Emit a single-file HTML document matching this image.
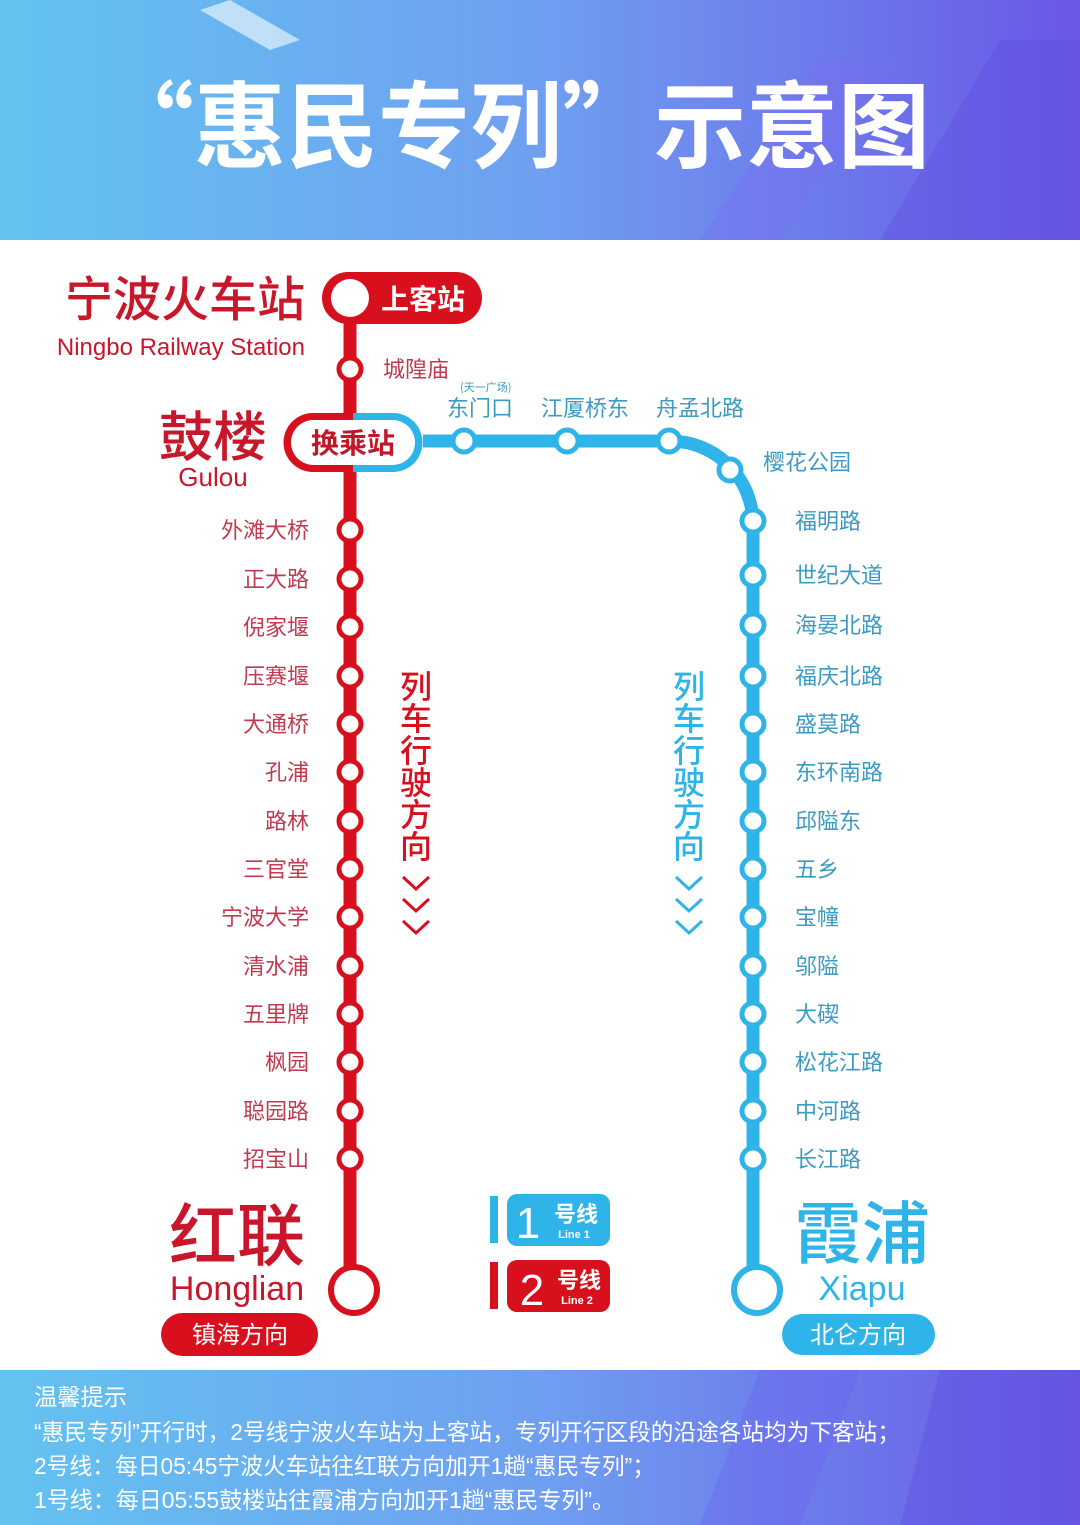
<!DOCTYPE html>
<html><head><meta charset="utf-8"><style>
html,body{margin:0;padding:0;background:#fff}
svg{display:block}
text{font-family:"Liberation Sans","Noto Sans CJK SC",sans-serif}
.cj{font-family:"Noto Sans CJK SC",sans-serif}
</style></head><body>
<svg width="1080" height="1525" viewBox="0 0 1080 1525" xmlns="http://www.w3.org/2000/svg">
<defs>
<linearGradient id="hg" x1="0" y1="0" x2="1" y2="0">
<stop offset="0" stop-color="#63c3f0"/><stop offset="0.5" stop-color="#6f9ff0"/><stop offset="1" stop-color="#6a58e6"/></linearGradient>
</defs>
<rect x="0" y="0" width="1080" height="240" fill="url(#hg)"/>
<polygon points="700,240 820,60 900,60 780,240" fill="#7a6cf0" opacity="0.35"/>
<polygon points="880,240 1000,40 1080,40 1080,240" fill="#5b4ee0" opacity="0.35"/>
<polygon points="230,0 300,40 270,50 200,10" fill="#e6f2fb" opacity="0.7"/>
<text x="102" y="160" class="cj" font-size="94" font-weight="700" fill="#fff" textLength="828" lengthAdjust="spacingAndGlyphs">“惠民专列”示意图</text>

<rect x="0" y="1370" width="1080" height="155" fill="url(#hg)"/>
<polygon points="700,1525 760,1370 860,1370 800,1525" fill="#6a62ee" opacity="0.35"/>
<polygon points="900,1525 940,1370 1080,1370 1080,1525" fill="#5b4ee0" opacity="0.35"/>
<g class="cj" fill="#fff" font-size="23">
<text x="34" y="1405" textLength="93" lengthAdjust="spacingAndGlyphs">温馨提示</text>
<text x="34" y="1440" textLength="866" lengthAdjust="spacingAndGlyphs">“惠民专列”开行时，2号线宁波火车站为上客站，专列开行区段的沿途各站均为下客站；</text>
<text x="34" y="1474" textLength="621" lengthAdjust="spacingAndGlyphs">2号线：每日05:45宁波火车站往红联方向加开1趟“惠民专列”；</text>
<text x="34" y="1508" textLength="581" lengthAdjust="spacingAndGlyphs">1号线：每日05:55鼓楼站往霞浦方向加开1趟“惠民专列”。</text>
</g>

<path d="M423,441 H670 A83,83 0 0 1 753,524 V1266" stroke="#2fb4e9" stroke-width="13" fill="none"/>
<line x1="350" y1="300" x2="350" y2="1266" stroke="#d8101e" stroke-width="13"/>

<rect x="322" y="272" width="160" height="52" rx="26" fill="#d8101e"/>
<circle cx="350" cy="298" r="19" fill="#fff"/>
<text x="423" y="309" text-anchor="middle" class="cj" font-size="28" font-weight="700" fill="#fff">上客站</text>

<path d="M353,413 H313 A29.5,29.5 0 0 0 313,472 H353 Z" fill="#d8101e"/>
<path d="M353,413 H393 A29.5,29.5 0 0 1 393,472 H353 Z" fill="#2fb4e9"/>
<rect x="291" y="420" width="124" height="45" rx="22.5" fill="#fff"/>
<text x="353" y="453" text-anchor="middle" class="cj" font-size="28" font-weight="700" fill="#c0182a">换乘站</text>

<g fill="#fff" stroke="#d8101e" stroke-width="5">
<circle cx="350" cy="369" r="11"/><circle cx="350" cy="530" r="11"/><circle cx="350" cy="579" r="11"/><circle cx="350" cy="627" r="11"/><circle cx="350" cy="676" r="11"/><circle cx="350" cy="724" r="11"/><circle cx="350" cy="772" r="11"/><circle cx="350" cy="821" r="11"/><circle cx="350" cy="869" r="11"/><circle cx="350" cy="917" r="11"/><circle cx="350" cy="966" r="11"/><circle cx="350" cy="1014" r="11"/><circle cx="350" cy="1062" r="11"/><circle cx="350" cy="1111" r="11"/><circle cx="350" cy="1159" r="11"/>
<circle cx="354" cy="1290" r="23" stroke-width="6"/>
</g>
<g fill="#fff" stroke="#2fb4e9" stroke-width="5">
<circle cx="464" cy="441" r="11"/><circle cx="567" cy="441" r="11"/><circle cx="669" cy="441" r="11"/><circle cx="730" cy="470" r="11"/><circle cx="753" cy="521" r="11"/><circle cx="753" cy="575" r="11"/><circle cx="753" cy="625" r="11"/><circle cx="753" cy="676" r="11"/><circle cx="753" cy="724" r="11"/><circle cx="753" cy="772" r="11"/><circle cx="753" cy="821" r="11"/><circle cx="753" cy="869" r="11"/><circle cx="753" cy="917" r="11"/><circle cx="753" cy="966" r="11"/><circle cx="753" cy="1014" r="11"/><circle cx="753" cy="1062" r="11"/><circle cx="753" cy="1111" r="11"/><circle cx="753" cy="1159" r="11"/>
<circle cx="757" cy="1290" r="23" stroke-width="6"/>
</g>

<text x="305" y="316" text-anchor="end" class="cj" font-size="48" font-weight="500" fill="#c8172b">宁波火车站</text>
<text x="305" y="355" text-anchor="end" font-size="24" fill="#c8172b">Ningbo Railway Station</text>
<text x="213" y="456" text-anchor="middle" class="cj" font-size="54" font-weight="500" fill="#c8172b">鼓楼</text>
<text x="213" y="486" text-anchor="middle" font-size="26" fill="#c8172b">Gulou</text>
<text x="237" y="1260" text-anchor="middle" class="cj" font-size="68" font-weight="500" fill="#c8172b">红联</text>
<text x="237" y="1300" text-anchor="middle" font-size="34" fill="#c8172b">Honglian</text>
<rect x="161" y="1313" width="157" height="43" rx="21.5" fill="#d8101e"/>
<text x="240" y="1343" text-anchor="middle" class="cj" font-size="24" fill="#fff">镇海方向</text>
<text x="862" y="1258" text-anchor="middle" class="cj" font-size="68" font-weight="500" fill="#2fb4e9">霞浦</text>
<text x="862" y="1300" text-anchor="middle" font-size="34" fill="#2fb4e9">Xiapu</text>
<rect x="782" y="1314" width="153" height="41" rx="20.5" fill="#2fb4e9"/>
<text x="858" y="1343" text-anchor="middle" class="cj" font-size="24" fill="#fff">北仑方向</text>

<g class="cj" font-size="22" fill="#c23a50" text-anchor="end">
<text x="309" y="538">外滩大桥</text><text x="309" y="587">正大路</text><text x="309" y="635">倪家堰</text><text x="309" y="684">压赛堰</text><text x="309" y="732">大通桥</text><text x="309" y="780">孔浦</text><text x="309" y="829">路林</text><text x="309" y="877">三官堂</text><text x="309" y="925">宁波大学</text><text x="309" y="974">清水浦</text><text x="309" y="1022">五里牌</text><text x="309" y="1070">枫园</text><text x="309" y="1119">聪园路</text><text x="309" y="1167">招宝山</text>
</g>
<text x="383" y="377" class="cj" font-size="22" fill="#c23a50">城隍庙</text>

<g class="cj" font-size="22" fill="#3d9ac2">
<text x="447" y="416">东门口</text><text x="541" y="416">江厦桥东</text><text x="656" y="416">舟孟北路</text>
<text x="763" y="470">樱花公园</text>
<text x="795" y="529">福明路</text><text x="795" y="583">世纪大道</text><text x="795" y="633">海晏北路</text><text x="795" y="684">福庆北路</text><text x="795" y="732">盛莫路</text><text x="795" y="780">东环南路</text><text x="795" y="829">邱隘东</text><text x="795" y="877">五乡</text><text x="795" y="925">宝幢</text><text x="795" y="974">邬隘</text><text x="795" y="1022">大碶</text><text x="795" y="1070">松花江路</text><text x="795" y="1119">中河路</text><text x="795" y="1167">长江路</text>
</g>
<text x="460" y="391" class="cj" font-size="11" fill="#3d9ac2">(天一广场)</text>

<g class="cj" font-size="32" font-weight="500" text-anchor="middle" fill="#d8101e">
<text x="416" y="698">列</text><text x="416" y="730">车</text><text x="416" y="762">行</text><text x="416" y="794">驶</text><text x="416" y="826">方</text><text x="416" y="858">向</text>
</g>
<g fill="none" stroke="#d8101e" stroke-width="3">
<path d="M403,877 L416,889 L429,877"/><path d="M403,899 L416,911 L429,899"/><path d="M403,921 L416,933 L429,921"/>
</g>
<g class="cj" font-size="32" font-weight="500" text-anchor="middle" fill="#2fb4e9">
<text x="689" y="698">列</text><text x="689" y="730">车</text><text x="689" y="762">行</text><text x="689" y="794">驶</text><text x="689" y="826">方</text><text x="689" y="858">向</text>
</g>
<g fill="none" stroke="#2fb4e9" stroke-width="3">
<path d="M676,877 L689,889 L702,877"/><path d="M676,899 L689,911 L702,899"/><path d="M676,921 L689,933 L702,921"/>
</g>

<rect x="490" y="1196" width="8" height="47" fill="#2fb4e9"/>
<rect x="507" y="1194" width="103" height="52" rx="10" fill="#2fb4e9"/>
<text x="528" y="1238" text-anchor="middle" font-size="44" fill="#fff">1</text>
<text x="576" y="1222" text-anchor="middle" class="cj" font-size="22" font-weight="700" fill="#fff">号线</text>
<text x="574" y="1238" text-anchor="middle" font-size="11" font-weight="700" fill="#fff">Line 1</text>
<rect x="490" y="1262" width="8" height="47" fill="#d8101e"/>
<rect x="507" y="1260" width="103" height="52" rx="10" fill="#d8101e"/>
<text x="532" y="1305" text-anchor="middle" font-size="44" fill="#fff">2</text>
<text x="579" y="1288" text-anchor="middle" class="cj" font-size="22" font-weight="700" fill="#fff">号线</text>
<text x="577" y="1304" text-anchor="middle" font-size="11" font-weight="700" fill="#fff">Line 2</text>
</svg>
</body></html>
